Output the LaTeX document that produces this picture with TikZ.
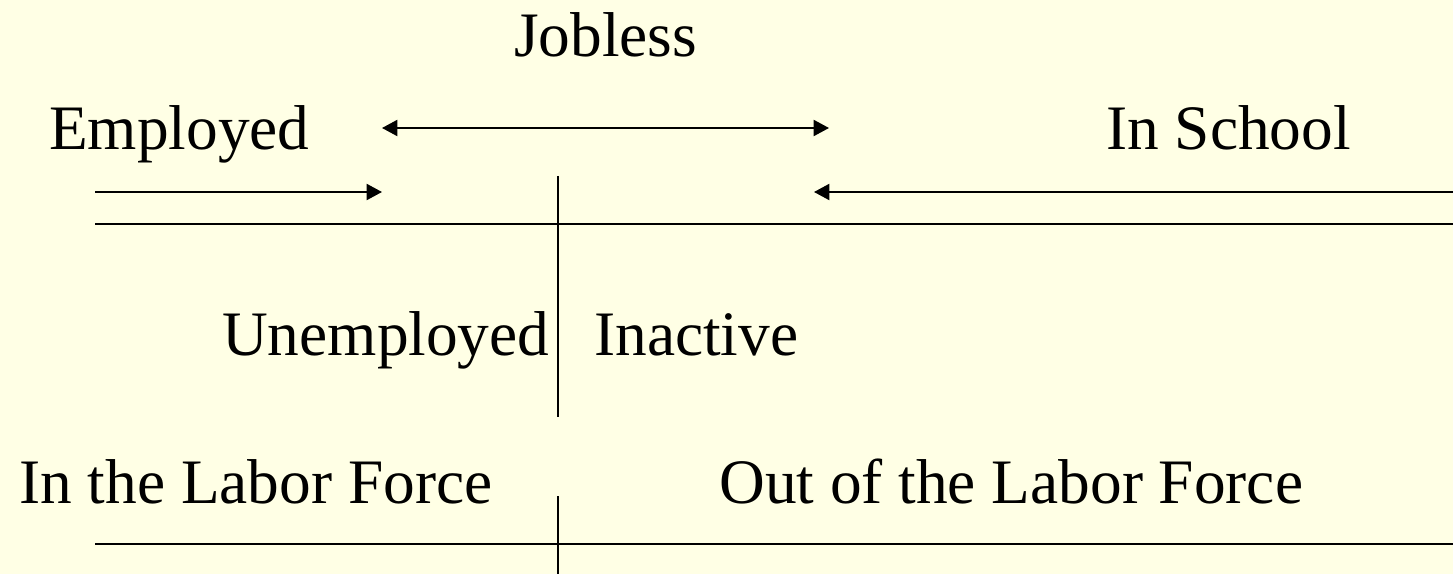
\documentclass[tikz,border=0pt]{standalone}
\usepackage{fontspec}
\setmainfont{Liberation Serif}
\usetikzlibrary{arrows.meta}
\definecolor{bg}{RGB}{255,255,229}
\begin{document}
\begin{tikzpicture}[x=0.75pt,y=-0.75pt,
  lbl/.style={inner sep=0pt,font=\fontsize{47.5}{52}\selectfont,anchor=base west},
  ln/.style={line width=1.5pt,black},
  arr/.style={ln,-{Triangle[length=11.5pt,width=12pt]}}]
\fill[bg] (0,0) rectangle (1453,574);
\useasboundingbox (0,0) rectangle (1453,574);
\node[lbl] (jobless) at (514,57) {Jobless};
\node[lbl] (employed) at (49,150) {Employed};
\node[lbl] (school) at (1106,150) {In School};
\node[lbl] (unemp) at (222,355) {Unemployed};
\node[lbl] (inact) at (594,355) {Inactive};
\node[lbl] (inlf) at (19,503) {In the Labor Force};
\node[lbl] (outlf) at (719,503) {Out of the Labor Force};
\coordinate (dl) at (382,128);
\coordinate (dr) at (829,128);
\coordinate (a1s) at (95,192);
\coordinate (a1e) at (382,192);
\coordinate (a2s) at (1453,192);
\coordinate (a2e) at (814,192);
\coordinate (h1l) at (95,224);
\coordinate (h1r) at (1453,224);
\coordinate (v1t) at (558,176);
\coordinate (v1b) at (558,417);
\coordinate (v2t) at (558,496);
\coordinate (v2b) at (558,574);
\coordinate (h2l) at (95,544);
\coordinate (h2r) at (1453,544);
\draw[ln,{Triangle[length=11.5pt,width=12pt]}-{Triangle[length=11.5pt,width=12pt]}] (dl) -- (dr);
\draw[arr] (a1s) -- (a1e);
\draw[arr] (a2s) -- (a2e);
\draw[ln] (h1l) -- (h1r);
\draw[ln] (v1t) -- (v1b);
\draw[ln] (v2t) -- (v2b);
\draw[ln] (h2l) -- (h2r);
\end{tikzpicture}
\end{document}
